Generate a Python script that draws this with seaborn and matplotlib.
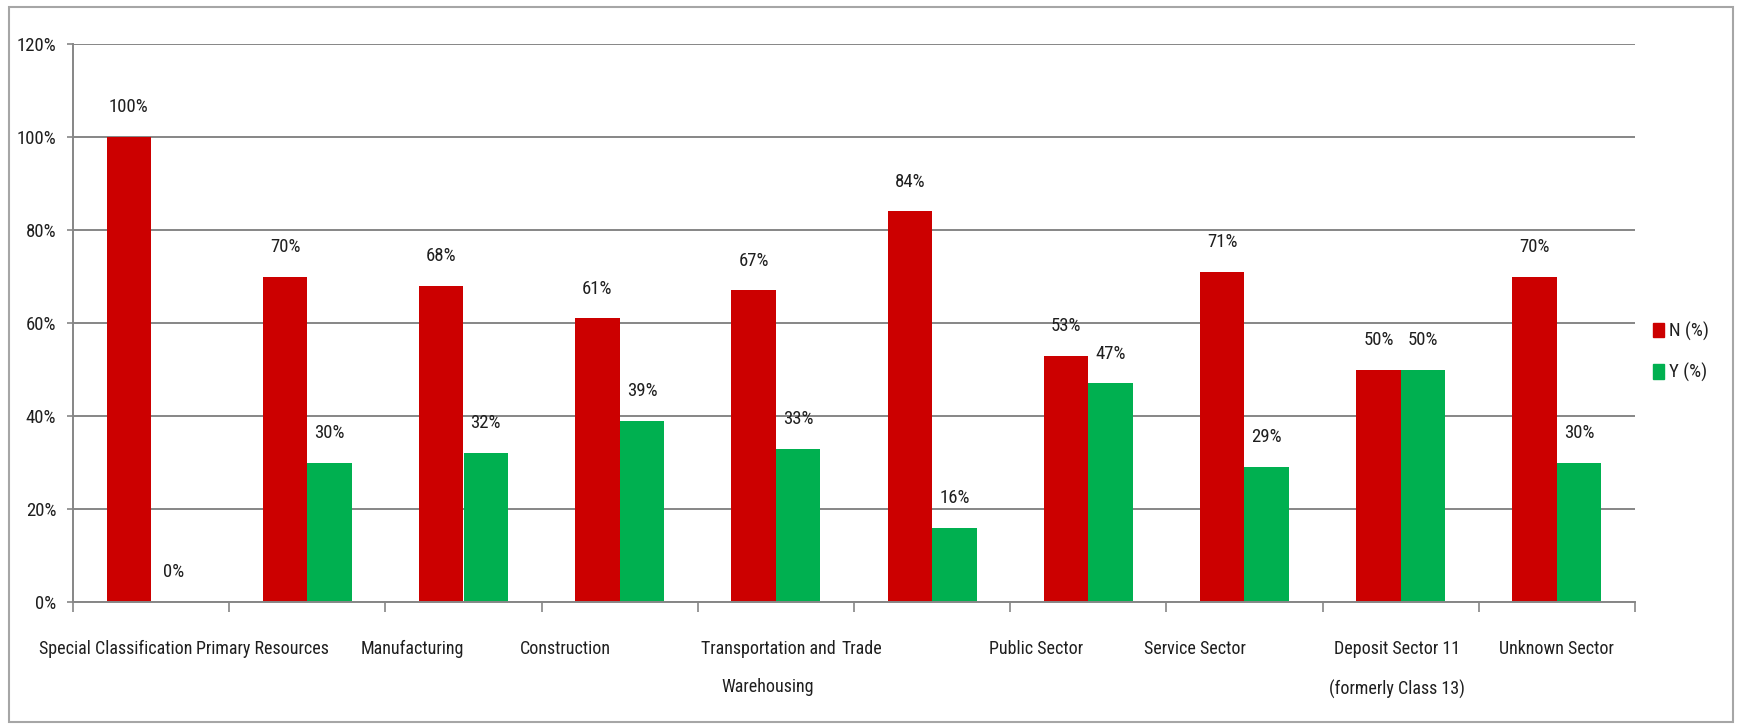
import matplotlib
matplotlib.use("Agg")
import matplotlib.pyplot as plt
import matplotlib.patches as mpatches
import matplotlib.transforms as mtransforms
from matplotlib import font_manager
from matplotlib.ticker import FixedLocator, FuncFormatter
import seaborn as sns
import pandas as pd

# ---- data ----
sectors = ["Special Classification", "Primary Resources", "Manufacturing", "Construction",
           "Transportation and\nWarehousing", "Trade", "Public Sector", "Service Sector",
           "Deposit Sector 11\n(formerly Class 13)", "Unknown Sector"]
n_pct = [100, 70, 68, 61, 67, 84, 53, 71, 50, 70]
y_pct = [0, 30, 32, 39, 33, 16, 47, 29, 50, 30]
series_names = ["N (%)", "Y (%)"]
y_ticks = [0, 20, 40, 60, 80, 100, 120]

# layout: horizontal nudge (pixels) of each category label, as in the original
label_nudge_px = [-35, -45, -51, -54, -8, -70, -52, -50, -4, 0]

RED = "#CC0000"
GREEN = "#00B050"
GRID = "#868686"
TXT = "#1F1F1F"

sns.set_theme(style="white")
avail = {f.name for f in font_manager.fontManager.ttflist}
cands = ["Liberation Sans Narrow", "Roboto Condensed", "Open Sans Condensed",
         "DejaVu Sans Condensed", "Noto Sans Condensed"]
fam = next((c for c in cands if c in avail), None)
stretch = "normal"
if fam is None:
    fam = "DejaVu Sans"
    stretch = "condensed"
plt.rcParams["font.family"] = [fam, "DejaVu Sans"]
plt.rcParams["font.stretch"] = stretch

df = pd.DataFrame({
    "sector": sectors * 2,
    "series": [series_names[0]] * len(sectors) + [series_names[1]] * len(sectors),
    "value": n_pct + y_pct,
})

W, H, DPI = 1740, 726, 100
fig = plt.figure(figsize=(W / DPI, H / DPI), dpi=DPI)
ax = fig.add_axes([73 / W, (H - 602) / H, (1635 - 73) / W, (602 - 44) / H])

sns.barplot(data=df, x="sector", y="value", hue="series", order=sectors,
            hue_order=series_names, palette=[RED, GREEN], saturation=1,
            width=0.57, ax=ax, legend=False, errorbar=None, linewidth=0)

FS = 13.5
for cont, vals in zip(ax.containers, [n_pct, y_pct]):
    ax.bar_label(cont, labels=[f"{v}%" for v in vals], padding=15,
                 fontsize=FS, color=TXT)

ax.set_ylim(0, 120)
ax.set_xlim(-0.5, len(sectors) - 0.5)
ax.yaxis.set_major_locator(FixedLocator(y_ticks))
ax.yaxis.set_major_formatter(FuncFormatter(lambda v, p: f"{int(v)}%"))
ax.grid(axis="y", color=GRID, linewidth=1.4)
ax.set_axisbelow(True)
for side in ["top", "right"]:
    ax.spines[side].set_visible(False)
for side in ["left", "bottom"]:
    ax.spines[side].set_color(GRID)
    ax.spines[side].set_linewidth(1.4)

ax.set_xlabel("")
ax.set_ylabel("")
ax.tick_params(axis="x", which="major", length=0, pad=27, labelsize=13, labelcolor=TXT)
ax.set_xticks(range(len(sectors)))
ax.set_xticklabels(sectors, linespacing=2.5, va="top")
for lab, dx in zip(ax.get_xticklabels(), label_nudge_px):
    lab.set_transform(lab.get_transform() +
                      mtransforms.ScaledTranslation(dx / DPI, 0, fig.dpi_scale_trans))
ax.set_xticks([i - 0.5 for i in range(len(sectors) + 1)], minor=True)
ax.tick_params(axis="x", which="minor", length=7, width=1.2, color=GRID, direction="out", bottom=True)
ax.tick_params(axis="y", which="major", length=4, width=1.2, color=GRID, direction="out",
               left=True, pad=8, labelsize=FS, labelcolor=TXT)

handles = [mpatches.Patch(color=RED, label=series_names[0]),
           mpatches.Patch(color=GREEN, label=series_names[1])]
fig.legend(handles=handles, loc="center left", bbox_to_anchor=(1636 / W, (H - 352) / H),
           frameon=False, handlelength=0.6, handleheight=0.8, handletextpad=0.25,
           labelspacing=1.2, fontsize=FS, labelcolor=TXT)

fig.patches.append(mpatches.Rectangle((9 / W, 4 / H), (1733 - 9) / W, (719 - 4) / H,
                                      transform=fig.transFigure, fill=False,
                                      edgecolor="#A6A6A6", linewidth=1.5))

fig.savefig("out.png", dpi=DPI)
